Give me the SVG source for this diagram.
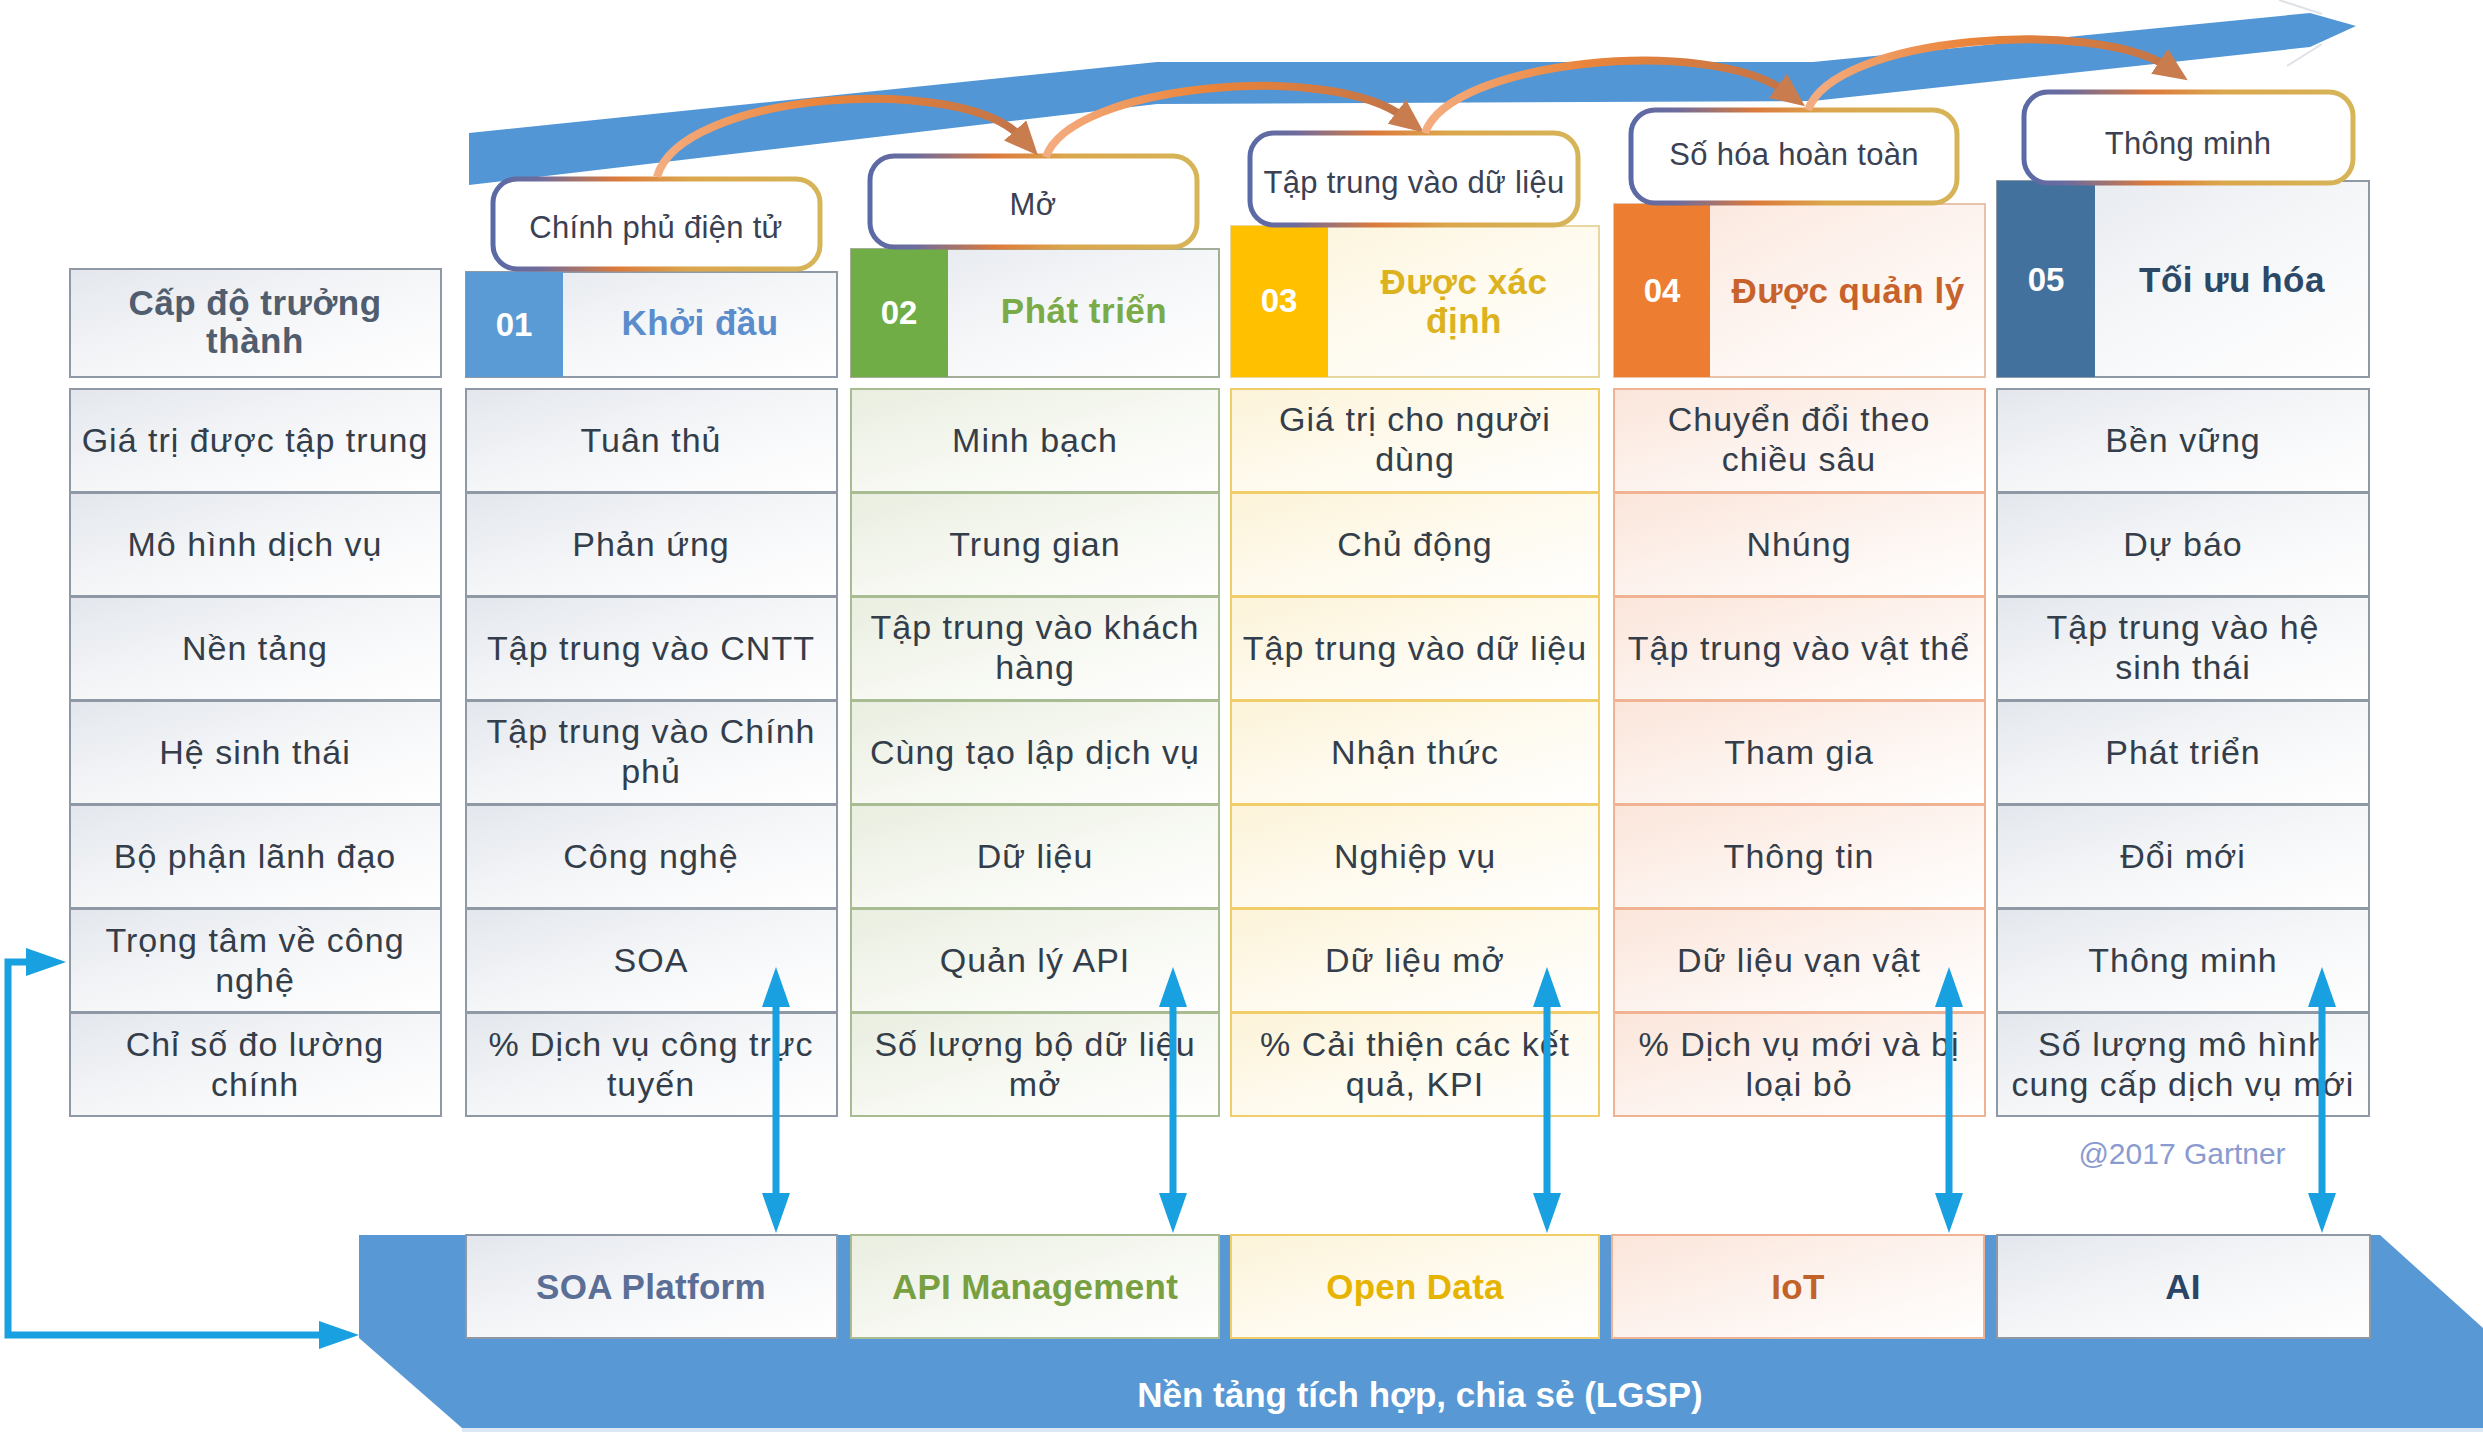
<svg xmlns="http://www.w3.org/2000/svg" width="2483" height="1432" viewBox="0 0 2483 1432">
<style>
text{font-family:"Liberation Sans",Arial,sans-serif;text-anchor:middle;dominant-baseline:central}
.ct{font-size:34px;fill:#343e4a;letter-spacing:1px}
.hd{font-size:35px;font-weight:bold;letter-spacing:0.5px}
.num{font-size:33px;font-weight:bold;fill:#ffffff}
.co{font-size:31px;fill:#3a4152;letter-spacing:0.3px}
.pl{font-size:35px;font-weight:bold;letter-spacing:0.3px}
.gy{fill:url(#gGray);stroke:#8f99a6;stroke-width:2}
.gn{fill:url(#gGreen);stroke:#a9bb90;stroke-width:2}
.ye{fill:url(#gYel);stroke:#f0cd68;stroke-width:2}
.pe{fill:url(#gPeach);stroke:#efb292;stroke-width:2}
.call{fill:#ffffff;stroke:url(#gCall);stroke-width:5}
.arc{fill:none;stroke:url(#gArc);stroke-width:8;marker-end:url(#mOr)}
.blu{fill:none;stroke:#18a0e0;stroke-width:7;marker-start:url(#mBl);marker-end:url(#mBl)}
</style>
<defs>
<linearGradient id="gGray" x1="0" y1="0" x2="1" y2="1"><stop offset="0" stop-color="#e3e7ed"/><stop offset="0.5" stop-color="#f5f6f8"/><stop offset="1" stop-color="#ffffff"/></linearGradient>
<linearGradient id="gGreen" x1="0" y1="0" x2="1" y2="1"><stop offset="0" stop-color="#e9eee0"/><stop offset="0.5" stop-color="#f6f8f1"/><stop offset="1" stop-color="#ffffff"/></linearGradient>
<linearGradient id="gYel" x1="0" y1="0" x2="1" y2="1"><stop offset="0" stop-color="#fcf3d8"/><stop offset="0.5" stop-color="#fefaee"/><stop offset="1" stop-color="#ffffff"/></linearGradient>
<linearGradient id="gPeach" x1="0" y1="0" x2="1" y2="1"><stop offset="0" stop-color="#fbe5da"/><stop offset="0.5" stop-color="#fdf3ee"/><stop offset="1" stop-color="#ffffff"/></linearGradient>
<linearGradient id="gCall" x1="0" y1="0" x2="1" y2="0"><stop offset="0" stop-color="#5a6aa6"/><stop offset="0.14" stop-color="#6e6c9c"/><stop offset="0.38" stop-color="#dc7a3c"/><stop offset="0.6" stop-color="#dba64c"/><stop offset="1" stop-color="#d6b558"/></linearGradient>
<linearGradient id="gArc" x1="0" y1="0" x2="1" y2="0"><stop offset="0" stop-color="#f4ad80"/><stop offset="0.45" stop-color="#ea843a"/><stop offset="1" stop-color="#c27448"/></linearGradient>
<marker id="mOr" viewBox="0 0 10 10" refX="3" refY="5" markerUnits="userSpaceOnUse" markerWidth="34" markerHeight="30" orient="auto" preserveAspectRatio="none"><path d="M0,0 L10,5 L0,10 z" fill="#c97d4e"/></marker>
<marker id="mBl" viewBox="0 0 10 10" refX="2" refY="5" markerUnits="userSpaceOnUse" markerWidth="40" markerHeight="28" orient="auto-start-reverse" preserveAspectRatio="none"><path d="M0,0 L10,5 L0,10 z" fill="#18a0e0"/></marker>
</defs>
<rect width="2483" height="1432" fill="#ffffff"/>

<g id="top-band">
<polygon points="469,133 1157,62 1813,62 2310,13 2356,26 2310,47 1813,101 1157,104 469,185" fill="#5296d5"/>
<line x1="2279" y1="0" x2="2322" y2="14" stroke="#c9ced4" stroke-width="2" opacity="0.6"/>
<line x1="2287" y1="66" x2="2322" y2="44" stroke="#c9ced4" stroke-width="2" opacity="0.6"/>
</g>

<g id="platform-base">
<polygon points="359,1235 2380,1235 2483,1328 2483,1428 462,1428 359,1338" fill="#5898d4"/>
<rect x="462" y="1428" width="2021" height="4" fill="#dbe7f3"/>
<text x="1420" y="1394" style="font-size:35px;font-weight:bold;fill:#ffffff">Nền tảng tích hợp, chia sẻ (LGSP)</text>
</g>

<!-- column 0 -->
<g id="col0-header"><rect class="gy" x="70" y="269" width="371" height="108"/><text class="hd" x="255" y="302" fill="#4f5d6e">Cấp độ trưởng</text><text class="hd" x="255" y="340" fill="#4f5d6e">thành</text></g>
<g id="col0-r1"><rect class="gy" x="70" y="389" width="371" height="103"/><text class="ct" x="255" y="440">Giá trị được tập trung</text></g>
<g id="col0-r2"><rect class="gy" x="70" y="493" width="371" height="103"/><text class="ct" x="255" y="544">Mô hình dịch vụ</text></g>
<g id="col0-r3"><rect class="gy" x="70" y="597" width="371" height="103"/><text class="ct" x="255" y="648">Nền tảng</text></g>
<g id="col0-r4"><rect class="gy" x="70" y="701" width="371" height="103"/><text class="ct" x="255" y="752">Hệ sinh thái</text></g>
<g id="col0-r5"><rect class="gy" x="70" y="805" width="371" height="103"/><text class="ct" x="255" y="856">Bộ phận lãnh đạo</text></g>
<g id="col0-r6"><rect class="gy" x="70" y="909" width="371" height="103"/><text class="ct" x="255" y="940">Trọng tâm về công</text><text class="ct" x="255" y="980">nghệ</text></g>
<g id="col0-r7"><rect class="gy" x="70" y="1013" width="371" height="103"/><text class="ct" x="255" y="1044">Chỉ số đo lường</text><text class="ct" x="255" y="1084">chính</text></g>

<!-- column 1 -->
<g id="col1-header"><rect class="gy" x="466" y="272" width="371" height="105"/><rect x="466" y="272" width="97" height="105" fill="#5b9bd5"/><text class="num" x="514" y="324">01</text><text class="hd" x="700" y="322" fill="#5b8ccc">Khởi đầu</text></g>
<g id="col1-r1"><rect class="gy" x="466" y="389" width="371" height="103"/><text class="ct" x="651" y="440">Tuân thủ</text></g>
<g id="col1-r2"><rect class="gy" x="466" y="493" width="371" height="103"/><text class="ct" x="651" y="544">Phản ứng</text></g>
<g id="col1-r3"><rect class="gy" x="466" y="597" width="371" height="103"/><text class="ct" x="651" y="648">Tập trung vào CNTT</text></g>
<g id="col1-r4"><rect class="gy" x="466" y="701" width="371" height="103"/><text class="ct" x="651" y="731">Tập trung vào Chính</text><text class="ct" x="651" y="771">phủ</text></g>
<g id="col1-r5"><rect class="gy" x="466" y="805" width="371" height="103"/><text class="ct" x="651" y="856">Công nghệ</text></g>
<g id="col1-r6"><rect class="gy" x="466" y="909" width="371" height="103"/><text class="ct" x="651" y="960">SOA</text></g>
<g id="col1-r7"><rect class="gy" x="466" y="1013" width="371" height="103"/><text class="ct" x="651" y="1044">% Dịch vụ công trực</text><text class="ct" x="651" y="1084">tuyến</text></g>

<!-- column 2 -->
<g id="col2-header"><rect class="gy" x="851" y="249" width="368" height="128" style="stroke:#a3ad98"/><rect x="851" y="249" width="97" height="128" fill="#70ad47"/><text class="num" x="899" y="312">02</text><text class="hd" x="1084" y="310" fill="#7aab48">Phát triển</text></g>
<g id="col2-r1"><rect class="gn" x="851" y="389" width="368" height="103"/><text class="ct" x="1035" y="440">Minh bạch</text></g>
<g id="col2-r2"><rect class="gn" x="851" y="493" width="368" height="103"/><text class="ct" x="1035" y="544">Trung gian</text></g>
<g id="col2-r3"><rect class="gn" x="851" y="597" width="368" height="103"/><text class="ct" x="1035" y="627">Tập trung vào khách</text><text class="ct" x="1035" y="667">hàng</text></g>
<g id="col2-r4"><rect class="gn" x="851" y="701" width="368" height="103"/><text class="ct" x="1035" y="752">Cùng tạo lập dịch vụ</text></g>
<g id="col2-r5"><rect class="gn" x="851" y="805" width="368" height="103"/><text class="ct" x="1035" y="856">Dữ liệu</text></g>
<g id="col2-r6"><rect class="gn" x="851" y="909" width="368" height="103"/><text class="ct" x="1035" y="960">Quản lý API</text></g>
<g id="col2-r7"><rect class="gn" x="851" y="1013" width="368" height="103"/><text class="ct" x="1035" y="1044">Số lượng bộ dữ liệu</text><text class="ct" x="1035" y="1084">mở</text></g>

<!-- column 3 -->
<g id="col3-header"><rect class="ye" x="1231" y="226" width="368" height="151" style="stroke:#e8d7a0"/><rect x="1231" y="226" width="97" height="151" fill="#ffc000"/><text class="num" x="1279" y="300">03</text><text class="hd" x="1464" y="281" fill="#dcb21e">Được xác</text><text class="hd" x="1464" y="320" fill="#dcb21e">định</text></g>
<g id="col3-r1"><rect class="ye" x="1231" y="389" width="368" height="103"/><text class="ct" x="1415" y="419">Giá trị cho người</text><text class="ct" x="1415" y="459">dùng</text></g>
<g id="col3-r2"><rect class="ye" x="1231" y="493" width="368" height="103"/><text class="ct" x="1415" y="544">Chủ động</text></g>
<g id="col3-r3"><rect class="ye" x="1231" y="597" width="368" height="103"/><text class="ct" x="1415" y="648">Tập trung vào dữ liệu</text></g>
<g id="col3-r4"><rect class="ye" x="1231" y="701" width="368" height="103"/><text class="ct" x="1415" y="752">Nhận thức</text></g>
<g id="col3-r5"><rect class="ye" x="1231" y="805" width="368" height="103"/><text class="ct" x="1415" y="856">Nghiệp vụ</text></g>
<g id="col3-r6"><rect class="ye" x="1231" y="909" width="368" height="103"/><text class="ct" x="1415" y="960">Dữ liệu mở</text></g>
<g id="col3-r7"><rect class="ye" x="1231" y="1013" width="368" height="103"/><text class="ct" x="1415" y="1044">% Cải thiện các kết</text><text class="ct" x="1415" y="1084">quả, KPI</text></g>

<!-- column 4 -->
<g id="col4-header"><rect class="pe" x="1614" y="204" width="371" height="173" style="stroke:#e8c2aa"/><rect x="1614" y="204" width="96" height="173" fill="#ed7d31"/><text class="num" x="1662" y="290">04</text><text class="hd" x="1848" y="290" fill="#c8622c">Được quản lý</text></g>
<g id="col4-r1"><rect class="pe" x="1614" y="389" width="371" height="103"/><text class="ct" x="1799" y="419">Chuyển đổi theo</text><text class="ct" x="1799" y="459">chiều sâu</text></g>
<g id="col4-r2"><rect class="pe" x="1614" y="493" width="371" height="103"/><text class="ct" x="1799" y="544">Nhúng</text></g>
<g id="col4-r3"><rect class="pe" x="1614" y="597" width="371" height="103"/><text class="ct" x="1799" y="648">Tập trung vào vật thể</text></g>
<g id="col4-r4"><rect class="pe" x="1614" y="701" width="371" height="103"/><text class="ct" x="1799" y="752">Tham gia</text></g>
<g id="col4-r5"><rect class="pe" x="1614" y="805" width="371" height="103"/><text class="ct" x="1799" y="856">Thông tin</text></g>
<g id="col4-r6"><rect class="pe" x="1614" y="909" width="371" height="103"/><text class="ct" x="1799" y="960">Dữ liệu vạn vật</text></g>
<g id="col4-r7"><rect class="pe" x="1614" y="1013" width="371" height="103"/><text class="ct" x="1799" y="1044">% Dịch vụ mới và bị</text><text class="ct" x="1799" y="1084">loại bỏ</text></g>

<!-- column 5 -->
<g id="col5-header"><rect class="gy" x="1997" y="181" width="372" height="196"/><rect x="1997" y="181" width="98" height="196" fill="#41719c"/><text class="num" x="2046" y="279">05</text><text class="hd" x="2232" y="279" fill="#2b4866">Tối ưu hóa</text></g>
<g id="col5-r1"><rect class="gy" x="1997" y="389" width="372" height="103"/><text class="ct" x="2183" y="440">Bền vững</text></g>
<g id="col5-r2"><rect class="gy" x="1997" y="493" width="372" height="103"/><text class="ct" x="2183" y="544">Dự báo</text></g>
<g id="col5-r3"><rect class="gy" x="1997" y="597" width="372" height="103"/><text class="ct" x="2183" y="627">Tập trung vào hệ</text><text class="ct" x="2183" y="667">sinh thái</text></g>
<g id="col5-r4"><rect class="gy" x="1997" y="701" width="372" height="103"/><text class="ct" x="2183" y="752">Phát triển</text></g>
<g id="col5-r5"><rect class="gy" x="1997" y="805" width="372" height="103"/><text class="ct" x="2183" y="856">Đổi mới</text></g>
<g id="col5-r6"><rect class="gy" x="1997" y="909" width="372" height="103"/><text class="ct" x="2183" y="960">Thông minh</text></g>
<g id="col5-r7"><rect class="gy" x="1997" y="1013" width="372" height="103"/><text class="ct" x="2183" y="1044">Số lượng mô hình</text><text class="ct" x="2183" y="1084">cung cấp dịch vụ mới</text></g>

<!-- platform boxes -->
<g id="plat-soa"><rect class="gy" x="466" y="1235" width="371" height="103"/><text class="pl" x="651" y="1286" fill="#5a6e96">SOA Platform</text></g>
<g id="plat-api"><rect class="gn" x="851" y="1235" width="368" height="103"/><text class="pl" x="1035" y="1286" fill="#78a040">API Management</text></g>
<g id="plat-opendata"><rect class="ye" x="1231" y="1235" width="368" height="103"/><text class="pl" x="1415" y="1286" fill="#e6b400">Open Data</text></g>
<g id="plat-iot"><rect class="pe" x="1612" y="1235" width="372" height="103"/><text class="pl" x="1798" y="1286" fill="#c0622a">IoT</text></g>
<g id="plat-ai"><rect class="gy" x="1997" y="1235" width="373" height="103"/><text class="pl" x="2183" y="1286" fill="#2a4565">AI</text></g>

<g id="credit"><text x="2182" y="1153" style="font-size:30px;fill:#8a9bd0">@2017 Gartner</text></g>

<!-- callouts -->
<g id="callout1"><rect class="call" x="493" y="179" width="327" height="90" rx="24"/><text class="co" x="656" y="227">Chính phủ điện tử</text></g>
<g id="callout2"><rect class="call" x="870" y="156" width="327" height="91" rx="24"/><text class="co" x="1033" y="204">Mở</text></g>
<g id="callout3"><rect class="call" x="1250" y="133" width="328" height="92" rx="24"/><text class="co" x="1414" y="182">Tập trung vào dữ liệu</text></g>
<g id="callout4"><rect class="call" x="1631" y="110" width="326" height="93" rx="24"/><text class="co" x="1794" y="154">Số hóa hoàn toàn</text></g>
<g id="callout5"><rect class="call" x="2024" y="92" width="329" height="91" rx="24"/><text class="co" x="2188" y="143">Thông minh</text></g>

<g id="connectors">
<path class="arc" d="M657,177 C680,92 962,72 1022,138"/>
<path class="arc" d="M1046,157 C1070,85 1330,60 1405,118"/>
<path class="arc" d="M1425,133 C1450,60 1710,35 1786,92"/>
<path class="arc" d="M1808,110 C1835,35 2095,18 2168,67"/>
<line class="blu" x1="776" y1="999" x2="776" y2="1201"/>
<line class="blu" x1="1173" y1="999" x2="1173" y2="1201"/>
<line class="blu" x1="1547" y1="999" x2="1547" y2="1201"/>
<line class="blu" x1="1949" y1="999" x2="1949" y2="1201"/>
<line class="blu" x1="2322" y1="999" x2="2322" y2="1201"/>
<path class="blu" d="M34,962 H8 V1335 H327"/>
</g>
</svg>
